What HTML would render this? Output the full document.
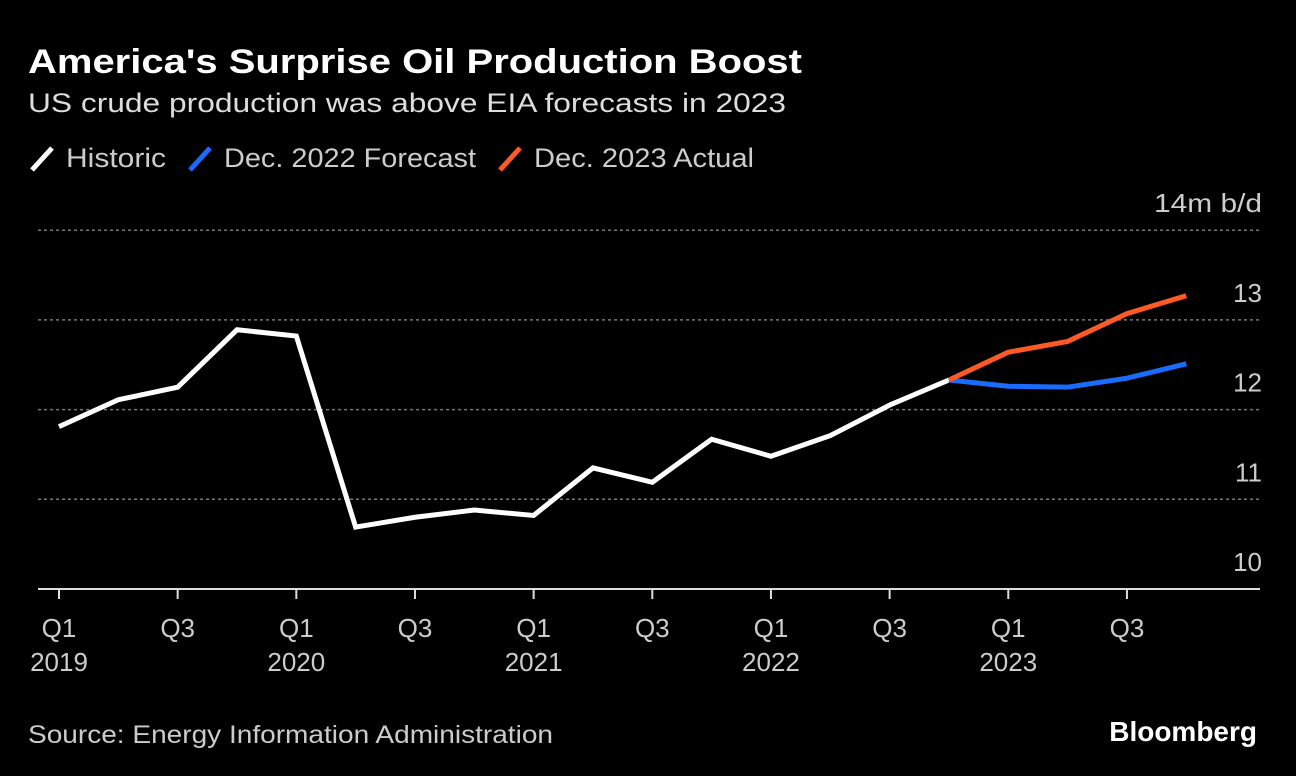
<!DOCTYPE html>
<html><head><meta charset="utf-8"><style>
body{margin:0;background:#000;width:1296px;height:776px;overflow:hidden;font-family:"Liberation Sans",sans-serif;color:#fff}
svg{position:absolute;left:0;top:0}
</style></head><body>
<svg width="1296" height="776">
<text x="28" y="73" font-size="34" font-weight="bold" fill="#fff" textLength="774" lengthAdjust="spacingAndGlyphs">America's Surprise Oil Production Boost</text>
<text x="28" y="112" font-size="27" fill="#ddd" textLength="758" lengthAdjust="spacingAndGlyphs">US crude production was above EIA forecasts in 2023</text>
<g font-size="27" fill="#ccc">
<line x1="32" y1="170" x2="52" y2="148" stroke="#fff" stroke-width="5"/>
<text x="66" y="167" textLength="100" lengthAdjust="spacingAndGlyphs">Historic</text>
<line x1="190" y1="170" x2="210" y2="148" stroke="#1a6cff" stroke-width="5"/>
<text x="224" y="167" textLength="252" lengthAdjust="spacingAndGlyphs">Dec. 2022 Forecast</text>
<line x1="500" y1="170" x2="520" y2="148" stroke="#ff5a26" stroke-width="5"/>
<text x="534" y="167" textLength="220" lengthAdjust="spacingAndGlyphs">Dec. 2023 Actual</text>
</g>
<g id="grid"></g><g id="xax"></g><g id="lines"></g>
<text x="28" y="743" font-size="25" fill="#ccc" textLength="525" lengthAdjust="spacingAndGlyphs">Source: Energy Information Administration</text>
<text x="1257" y="741" font-size="28" font-weight="bold" fill="#fff" text-anchor="end">Bloomberg</text>
</svg>
<script>
const historic=[11.81,12.11,12.25,12.89,12.82,10.69,10.80,10.88,10.82,11.35,11.19,11.67,11.48,11.71,12.05,12.33];
const forecast=[12.33,12.26,12.25,12.35,12.51];
const actual=[12.33,12.64,12.76,13.07,13.27];
const yTicks=[10,11,12,13,14];
const yTickLabels=["10","11","12","13","14m b/d"];
const xTickLabels=[["Q1","2019"],["Q3",""],["Q1","2020"],["Q3",""],["Q1","2021"],["Q3",""],["Q1","2022"],["Q3",""],["Q1","2023"],["Q3",""]];
const NS="http://www.w3.org/2000/svg";
const X=i=>59+i*59.33, Y=v=>589-(v-10)*89.7;
function mk(p,t,a){const e=document.createElementNS(NS,t);for(const k in a)e.setAttribute(k,a[k]);p.appendChild(e);return e;}
const g=document.getElementById('grid');
yTicks.forEach((v,i)=>{
 if(v>10){const l=mk(g,'line',{x1:38,x2:1260,y1:Y(v),y2:Y(v),stroke:'#777','stroke-width':1.5,'stroke-dasharray':'3 3'});
 
 }
 const last=i===yTicks.length-1;
 const a={x:1262,y:Y(v)-18,'font-size':26,fill:'#ccc','text-anchor':'end'};
 if(last){a.textLength=108;a.lengthAdjust='spacingAndGlyphs';}
 const t=mk(g,'text',a);
 t.textContent=yTickLabels[i];
 
 
});
const xa=document.getElementById('xax');
const ax=mk(xa,'line',{x1:38,x2:1260,y1:589,y2:589,stroke:'#ddd','stroke-width':2});


xTickLabels.forEach((lb,j)=>{
 const x=X(j*2);
 const tk=mk(xa,'line',{x1:x,x2:x,y1:589,y2:599,stroke:'#ddd','stroke-width':2});
 
 
 const t=mk(xa,'text',{x:x,y:637,'font-size':26,fill:'#ccc','text-anchor':'middle'});
 t.textContent=lb[0];
 
 
 if(lb[1]){const t2=mk(xa,'text',{x:x,y:671,'font-size':26,fill:'#ccc','text-anchor':'middle'});t2.textContent=lb[1];
 
 }
});
const L=document.getElementById('lines');
function line(arr,off,col,name){
 const p=mk(L,'polyline',{points:arr.map((v,i)=>X(i+off)+','+Y(v)).join(' '),fill:'none',stroke:col,'stroke-width':5,'stroke-linejoin':'miter'});
 
 
}
line(historic,0,'#fff','historic-line');
line(forecast,15,'#1a6cff','forecast-line');
line(actual,15,'#ff5a26','actual-line');
</script>
</body></html>
